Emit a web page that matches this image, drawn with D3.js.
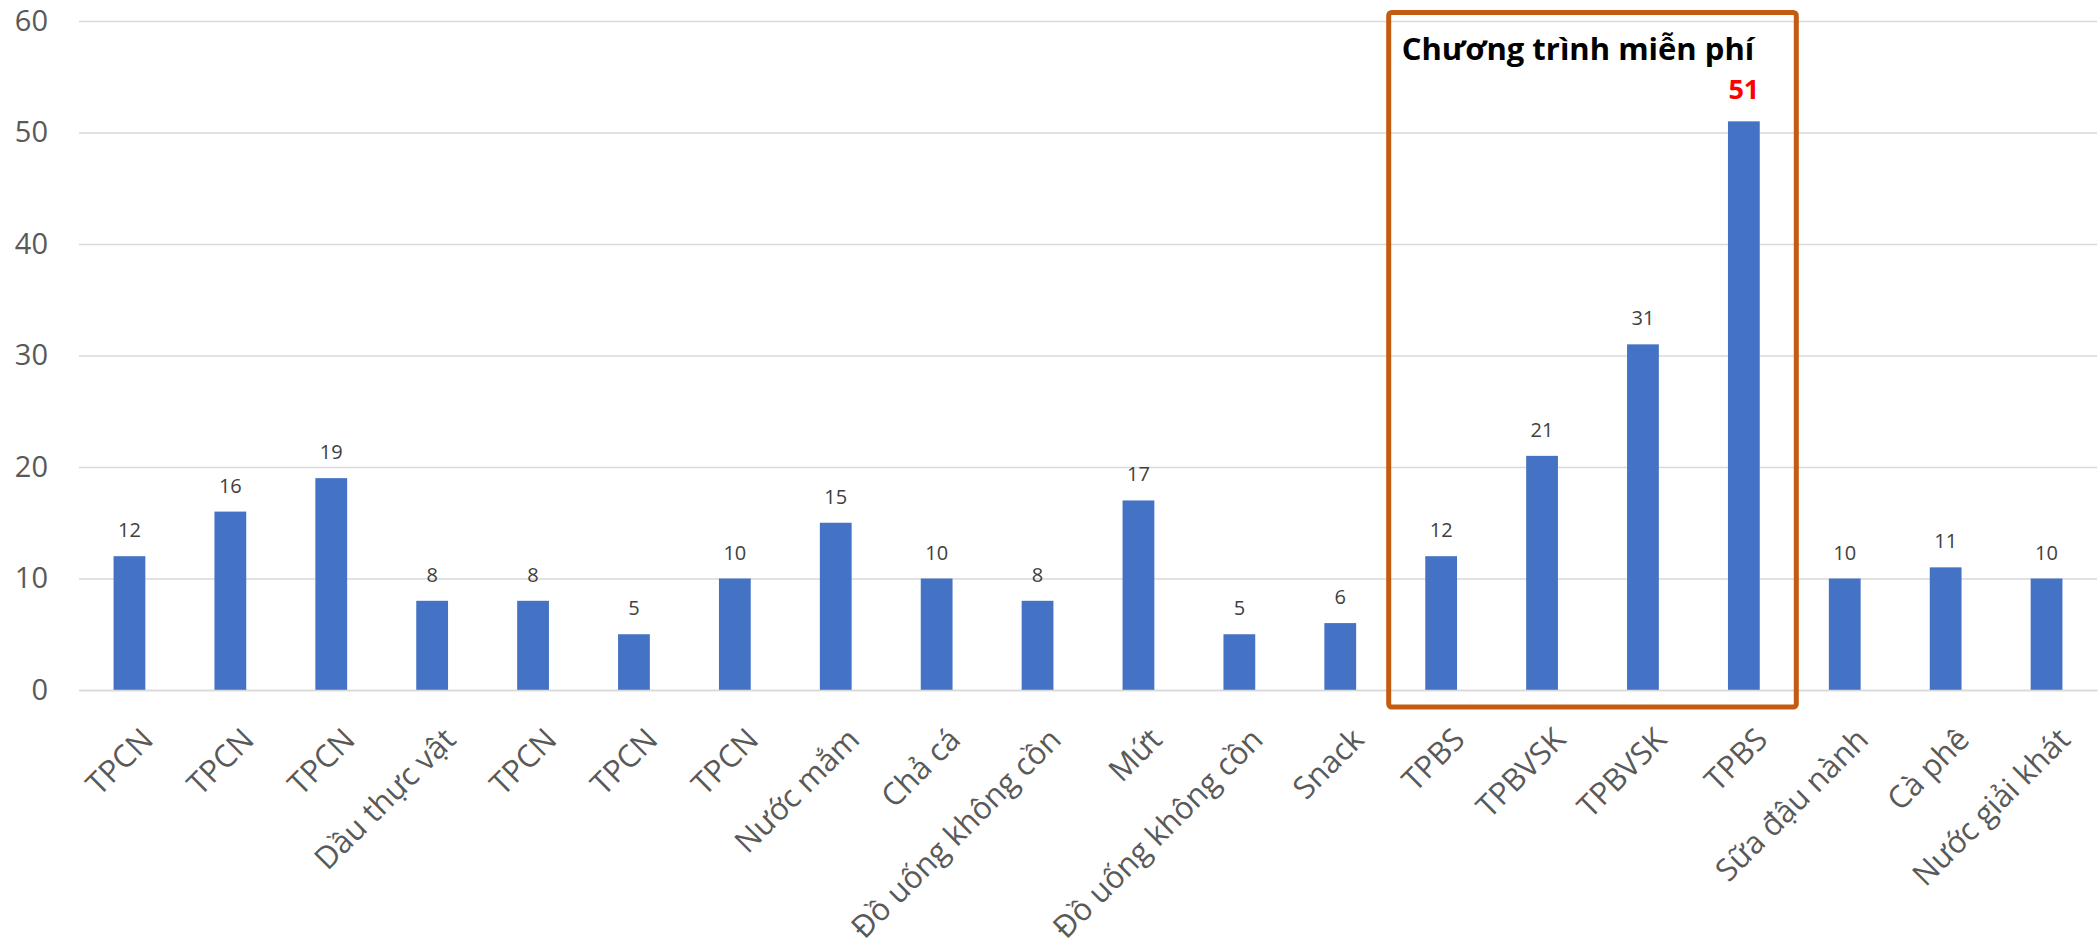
<!DOCTYPE html>
<html>
<head>
<meta charset="utf-8">
<script src="https://cdn.jsdelivr.net/npm/d3@7"></script>
<style>
  html, body { margin: 0; padding: 0; background: #fff; }
  svg { display: block; }
</style>
</head>
<body>
<svg id="chart" width="2098" height="947"></svg>
<script>
const categories = ["TPCN","TPCN","TPCN","Dầu thực vật","TPCN","TPCN","TPCN","Nước mắm","Chả cá","Đồ uống không cồn","Mứt","Đồ uống không cồn","Snack","TPBS","TPBVSK","TPBVSK","TPBS","Sữa đậu nành","Cà phê","Nước giải khát"];
const values = [12,16,19,8,8,5,10,15,10,8,17,5,6,12,21,31,51,10,11,10];
const yTicks = [0,10,20,30,40,50,60];
const highlightRange = [13,16];
const highlightTitle = "Chương trình miễn phí";
const maxIndex = values.indexOf(d3.max(values));

const svg = d3.select("#chart");
const W = 2098, H = 947;
const m = {left: 79, right: 1, top: 21, bottom: 257};
const x = d3.scaleBand().domain(d3.range(categories.length)).range([m.left, W - m.right]).paddingInner(0.685).paddingOuter(0.3425);
const y = d3.scaleLinear().domain([0, 60]).range([H - m.bottom, m.top]);
const font = "'Open Sans', 'Noto Sans', sans-serif";

// gridlines
const yAxis = d3.axisLeft(y).tickValues(yTicks).tickSize(-(W - m.right - m.left)).tickPadding(31);
const gy = svg.append("g").attr("transform", `translate(${m.left},0)`).call(yAxis);
gy.select(".domain").remove();
gy.selectAll(".tick line").attr("stroke", "#d9d9d9").attr("stroke-width", 1.5);
gy.selectAll(".tick text").attr("fill", "#595959").style("font-family", font).style("font-size", "29px");

// bars
svg.append("g").selectAll("rect").data(values).join("rect")
  .attr("x", (d, i) => x(i))
  .attr("y", d => y(d))
  .attr("width", x.bandwidth())
  .attr("height", d => y(0) - y(d))
  .attr("fill", "#4472C4");

// data labels
svg.append("g").selectAll("text").data(values).join("text")
  .attr("x", (d, i) => x(i) + x.bandwidth() / 2)
  .attr("y", (d, i) => y(d) - (i === maxIndex ? 22 : 19))
  .attr("text-anchor", "middle")
  .style("font-family", font)
  .style("font-size", (d, i) => i === maxIndex ? "27px" : "20px")
  .style("font-weight", (d, i) => i === maxIndex ? "700" : "400")
  .attr("fill", (d, i) => i === maxIndex ? "#FF0000" : "#404040")
  .text(d => d);

// category labels
const xAxis = d3.axisBottom(x).tickSize(0).tickFormat(i => categories[i]);
const gx = svg.append("g").attr("transform", `translate(0,${y(0)})`).call(xAxis);
gx.select(".domain").attr("stroke", "#d9d9d9").attr("stroke-width", 1.5);
gx.selectAll(".tick text")
  .attr("fill", "#595959")
  .style("font-family", font)
  .style("font-size", "31px")
  .attr("text-anchor", "end")
  .attr("dy", null).attr("y", null)
  .attr("transform", "translate(9,35) rotate(-45)")
  .attr("dy", "0.75em");

// highlight box
const bx0 = x(highlightRange[0]) - x.step() * x.paddingInner() / 2 - 2;
const bx1 = x(highlightRange[1]) + x.bandwidth() + x.step() * x.paddingInner() / 2 + 2;
svg.append("rect")
  .attr("x", bx0).attr("y", 12.5)
  .attr("width", bx1 - bx0).attr("height", 707 - 12.5)
  .attr("rx", 3)
  .attr("fill", "none").attr("stroke", "#C55A11").attr("stroke-width", 5);
svg.append("text")
  .attr("x", bx0 + 13).attr("y", 60)
  .style("font-family", font).style("font-size", "31px").style("font-weight", "700")
  .attr("fill", "#000")
  .text(highlightTitle);
</script>
</body>
</html>
